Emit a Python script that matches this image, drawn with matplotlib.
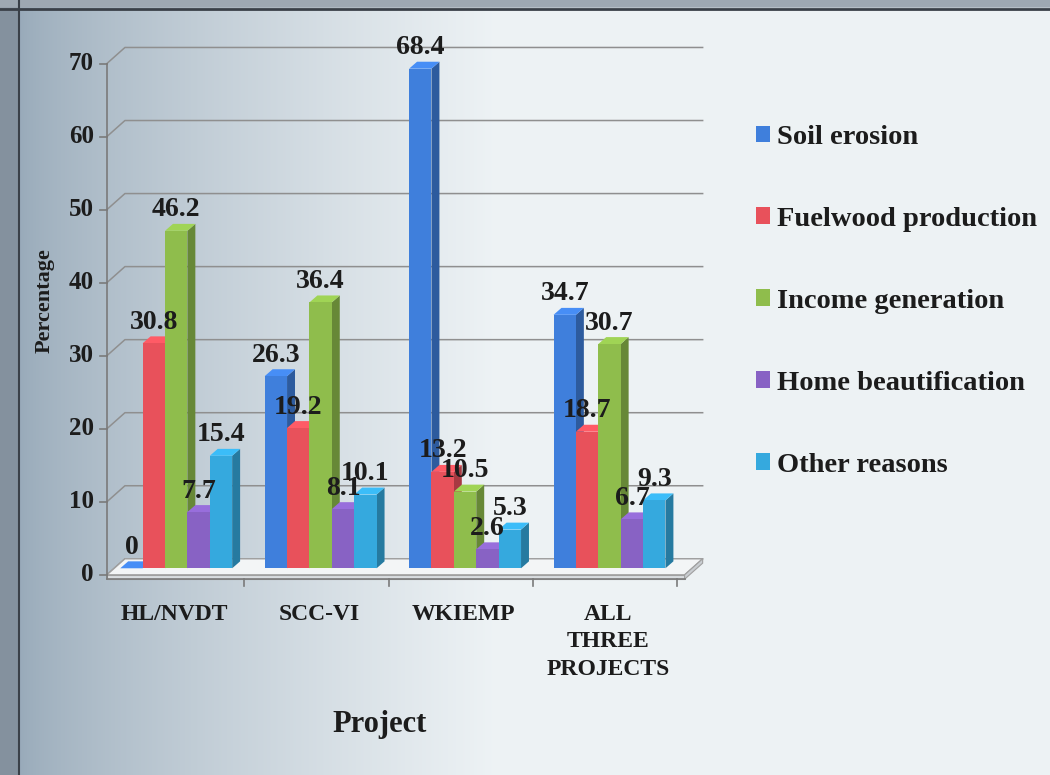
import numpy as np
import matplotlib
matplotlib.use("Agg")
import matplotlib.pyplot as plt
from matplotlib.patches import Polygon, Rectangle, Patch
from matplotlib.colors import to_rgb

# survey results: reasons for planting, % of respondents per project
projects = ["HL/NVDT", "SCC-VI", "WKIEMP", "ALL\nTHREE\nPROJECTS"]
reasons = ["Soil erosion", "Fuelwood production", "Income generation",
           "Home beautification", "Other reasons"]
soil_erosion = [0, 26.3, 68.4, 34.7]
fuelwood = [30.8, 19.2, 13.2, 18.7]
income = [46.2, 36.4, 10.5, 30.7]
home_beauty = [7.7, 8.1, 2.6, 6.7]
other = [15.4, 10.1, 5.3, 9.3]
yticks = [0, 10, 20, 30, 40, 50, 60, 70]

series = [soil_erosion, fuelwood, income, home_beauty, other]
colors = ["#3f7fdc", "#e8515b", "#8fbd4c", "#8862c4", "#35a9de"]
ink = "#1c1c1c"

plt.rcParams["font.family"] = ["Liberation Serif", "DejaVu Serif"]
plt.rcParams["font.weight"] = "bold"


def shade(c, f):
    r = np.clip(np.array(to_rgb(c)) * f, 0, 1)
    return tuple(r)


fig = plt.figure(figsize=(10.5, 7.75), dpi=100)

# page background (grey-blue at the binding, fading to white)
bg = fig.add_axes([0, 0, 1, 1])
X, Y = np.meshgrid(np.linspace(0, 1, 500), np.linspace(0, 1, 400))
t = np.clip((X - 0.02) / 0.45, 0, 1) ** 0.75
c_left = np.array([0.60, 0.67, 0.73])
c_right = np.array([0.93, 0.95, 0.96])
img = c_left + (c_right - c_left) * t[..., None]
img[X < 0.017] = [0.52, 0.57, 0.62]
img[Y > 0.99] = [0.62, 0.66, 0.70]
bg.imshow(img, extent=[0, 1, 0, 1], aspect="auto", origin="lower")
bg.axvline(0.018, color="#3a4048", lw=1.5)
bg.axhline(0.988, color="#3a4048", lw=2)
bg.set_xlim(0, 1)
bg.set_ylim(0, 1)
bg.axis("off")

# chart axes spanning the figure; x in group units, y in percent
ax = fig.add_axes([0, 0, 1, 1])
ax.set_xlim(-0.74, 6.53)
ax.set_ylim(-27.4, 78.7)
ax.axis("off")
ax.patch.set_alpha(0)

WX, WY = 0.125, 2.2      # wall depth
BW = 0.155               # bar width
BX0, BY0 = 0.03, 0.9     # bar plane offset
DX, DY = 0.055, 0.95     # bar depth
XEND = 4.0
grid_c = "#8f8f8f"
centers = np.arange(len(projects)) + 0.45

# side wall + back wall gridlines
for v in yticks:
    ax.plot([0, WX, XEND + WX], [v, v + WY, v + WY], color=grid_c, lw=1.1, zorder=1)

# floor
ax.add_patch(Polygon([(0, 0), (XEND, 0), (XEND + WX, WY), (WX, WY)],
                     facecolor="#f3f5f6", edgecolor="#a0a0a0", lw=1, zorder=1.5))
ax.add_patch(Rectangle((0, -0.6), XEND, 0.6, facecolor="#d9dde0",
                       edgecolor="#a0a0a0", lw=0.8, zorder=1.5))
ax.add_patch(Polygon([(XEND, -0.6), (XEND + WX, WY - 0.6), (XEND + WX, WY), (XEND, 0)],
                     facecolor="#c9cdd1", edgecolor="#a0a0a0", lw=0.8, zorder=1.5))

# axes lines and ticks
ax.plot([0, 0], [-0.6, yticks[-1]], color="#7a7a7a", lw=1.2, zorder=2)
for v in yticks:
    ax.plot([-0.05, 0], [v, v], color="#7a7a7a", lw=1.2, zorder=2)
    ax.text(-0.09, v, str(v), ha="right", va="center", fontsize=18, color=ink)
ax.plot([0, XEND], [-0.6, -0.6], color="#7a7a7a", lw=1.2, zorder=2)
for c in centers:
    ax.plot([c + 0.5, c + 0.5], [-0.6, -1.5], color="#7a7a7a", lw=1.2, zorder=2)

# 3-D columns
z = 3
for g in range(len(projects)):
    for s, vals in enumerate(series):
        v = vals[g]
        col = colors[s]
        x0 = centers[g] - 2.5 * BW + s * BW + BX0
        y0, y1 = BY0, BY0 + v
        ax.add_patch(Polygon([(x0 + BW, y0), (x0 + BW + DX, y0 + DY),
                              (x0 + BW + DX, y1 + DY), (x0 + BW, y1)],
                             facecolor=shade(col, 0.72), edgecolor="none", zorder=z))
        ax.add_patch(Polygon([(x0, y1), (x0 + BW, y1), (x0 + BW + DX, y1 + DY),
                              (x0 + DX, y1 + DY)],
                             facecolor=shade(col, 1.12), edgecolor="none", zorder=z))
        ax.add_patch(Rectangle((x0, y0), BW, v, facecolor=col,
                               edgecolor="none", zorder=z))
        ax.text(x0 + BW / 2, y1 + DY + 0.2, f"{v:g}", ha="center",
                va="bottom", fontsize=20, color=ink, zorder=50)
        z += 1

for c, name in zip(centers, projects):
    ax.text(c + 0.02, -4.0, name, ha="center", va="top", fontsize=17,
            linespacing=1.4, color=ink)

ax.text(1.89, -20.5, "Project", ha="center", va="center", fontsize=22, color=ink)
ax.text(-0.43, 37.6, "Percentage", ha="center", va="center", rotation=90,
        fontsize=16, color=ink)

handles = [Patch(facecolor=c, edgecolor="none") for c in colors]
ax.legend(handles, reasons, loc="upper left", bbox_to_anchor=(0.72, 0.839),
          bbox_transform=fig.transFigure, frameon=False,
          prop={"family": "Liberation Serif", "weight": "bold", "size": 20.5},
          handlelength=0.5, handleheight=0.5, handletextpad=0.25,
          labelspacing=2.0, borderaxespad=0, borderpad=0, labelcolor=ink)

fig.savefig("out.png", dpi=100)
